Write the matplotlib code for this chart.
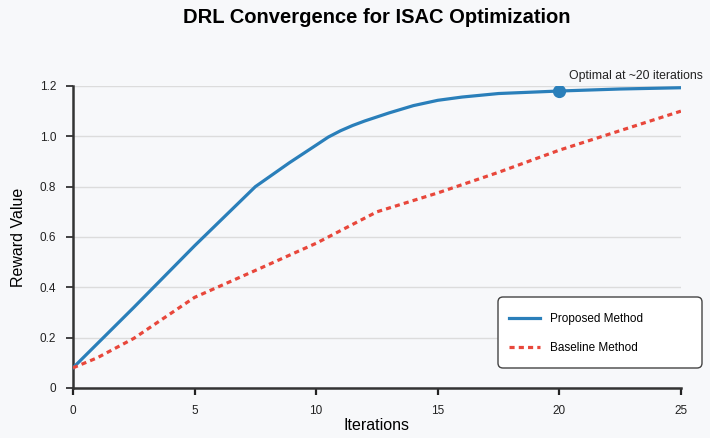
import matplotlib.pyplot as plt
from matplotlib.lines import Line2D
from matplotlib.patches import FancyBboxPatch
from matplotlib.transforms import IdentityTransform

plt.rcParams['font.family'] = ['Liberation Sans', 'DejaVu Sans']

BG = '#f7f8fa'
BLUE = '#2a7fba'
RED = '#e8473b'

iters_prop = [0, 2.5, 5, 7.5, 8.9, 10, 10.5, 11, 11.5, 12, 12.5, 13, 14, 15, 16, 17.5, 20, 22.5, 25]
reward_prop = [0.08, 0.32, 0.565, 0.80, 0.895, 0.965, 0.997, 1.022, 1.043, 1.061, 1.077,
               1.093, 1.122, 1.143, 1.156, 1.17, 1.18, 1.188, 1.193]

iters_base = [0, 1, 2.5, 5, 7.5, 10, 12.5, 15, 17.5, 20, 25]
reward_base = [0.08, 0.12, 0.197, 0.36, 0.467, 0.575, 0.70, 0.775, 0.857, 0.945, 1.10]

opt_x, opt_y = 20, 1.18

DASH = (0, (1.6, 1.3))
W, H = 710, 438

fig = plt.figure(figsize=(7.1, 4.38), dpi=100, facecolor=BG)
ax = fig.add_axes([0.1028, 0.1142, 0.8562, 0.6895], facecolor=BG)

ax.plot(iters_prop, reward_prop, color=BLUE, lw=2.3, solid_joinstyle='round', zorder=3)
ax.plot(iters_base, reward_base, color=RED, lw=2.3, ls=DASH, zorder=3)
ax.plot([opt_x], [opt_y], 'o', color=BLUE, ms=8.5, zorder=4)
ax.text(opt_x + 0.4, opt_y + 0.035, 'Optimal at ~20 iterations', fontsize=8.8,
        color='#222222', ha='left', va='bottom')

ax.set_xlim(0, 25)
ax.set_ylim(0, 1.2)
ax.set_xticks([0, 5, 10, 15, 20, 25])
ax.set_yticks([0, 0.2, 0.4, 0.6, 0.8, 1.0, 1.2])
ax.set_yticklabels(['0', '0.2', '0.4', '0.6', '0.8', '1.0', '1.2'])
ax.tick_params(axis='both', labelsize=8.5, colors='#222222', width=1.6, length=5, pad=7)
ax.tick_params(axis='y', length=5, width=1.2)
ax.grid(axis='y', color='#dcdcdc', lw=1)
ax.set_axisbelow(True)
for s in ['top', 'right']:
    ax.spines[s].set_visible(False)
for s in ['left', 'bottom']:
    ax.spines[s].set_color('#333333')
    ax.spines[s].set_linewidth(1.8)

ax.set_xlabel('Iterations', fontsize=11.5, labelpad=1)
ax.set_ylabel('Reward Value', fontsize=11.5, labelpad=10)

fig.text(0.531, 0.96, 'DRL Convergence for ISAC Optimization', fontsize=14.5,
         fontweight='bold', ha='center', va='center')

# legend box (fixed size, wider than its content)
box = FancyBboxPatch((498, H - 368), 204, 71, boxstyle='round,pad=0,rounding_size=5',
                     transform=IdentityTransform(), facecolor='white',
                     edgecolor='#444444', lw=1.0, zorder=5)
fig.patches.append(box)

handles = [Line2D([], [], color=BLUE, lw=2.3),
           Line2D([], [], color=RED, lw=2.3, ls=DASH)]
leg = fig.legend(handles, ['Proposed Method', 'Baseline Method'],
                 loc='center left', bbox_to_anchor=(509 / W, 1 - 333.5 / H),
                 fontsize=8.5, frameon=False, handlelength=2.6,
                 borderpad=0, labelspacing=1.45, handletextpad=0.85,
                 borderaxespad=0)
leg.set_zorder(6)

fig.savefig('out.png', dpi=100, facecolor=BG)
